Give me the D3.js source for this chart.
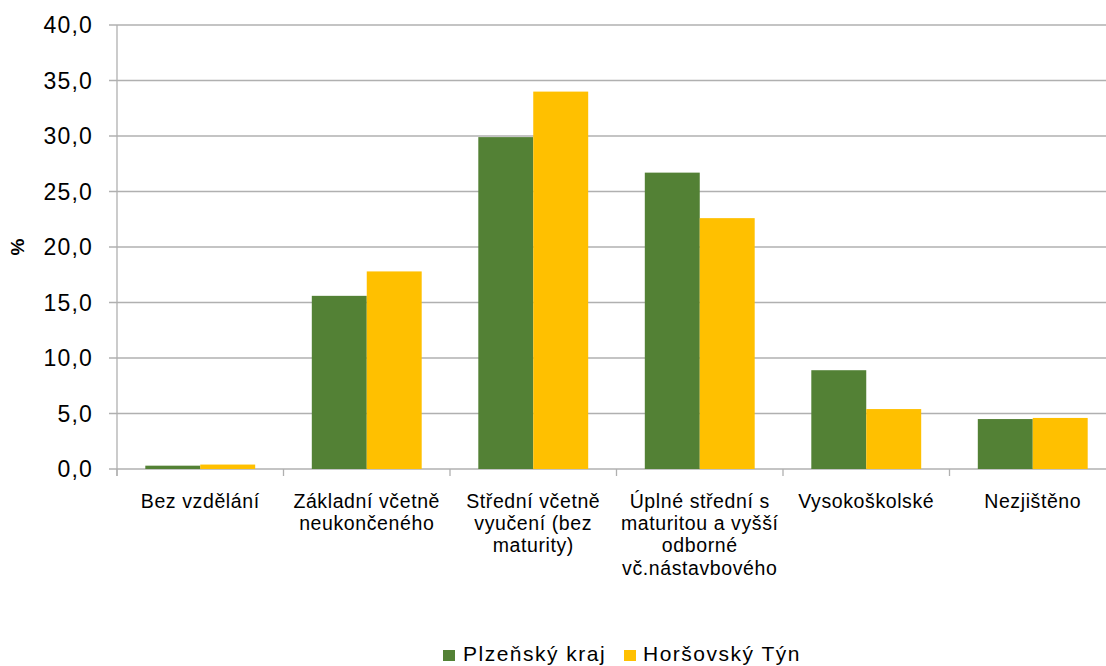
<!DOCTYPE html>
<html>
<head>
<meta charset="utf-8">
<script src="https://cdn.jsdelivr.net/npm/d3@7"></script>
<style>
  body { margin: 0; background: #fff; }
  svg { display: block; font-family: "Liberation Sans", Arial, sans-serif; }
</style>
</head>
<body>
<svg width="1106" height="666"></svg>
<script>
// categories, each label already split into the lines shown under the axis
let categories = ["Bez vzdělání", "Základní včetně neukončeného", "Střední včetně vyučení (bez maturity)",
  "Úplné střední s maturitou a vyšší odborné vč.nástavbového", "Vysokoškolské", "Nezjištěno"];
let categoryLines = [
  ["Bez vzdělání"],
  ["Základní včetně", "neukončeného"],
  ["Střední včetně", "vyučení (bez", "maturity)"],
  ["Úplné střední s", "maturitou a vyšší", "odborné", "vč.nástavbového"],
  ["Vysokoškolské"],
  ["Nezjištěno"]
];
let seriesNames = ["Plzeňský kraj", "Horšovský Týn"];
let plzensky = [0.3, 15.6, 29.9, 26.7, 8.9, 4.5];
let horsovsky = [0.4, 17.8, 34.0, 22.6, 5.4, 4.6];
let yTicks = [0, 5, 10, 15, 20, 25, 30, 35, 40];

let colors = ["#538135", "#FFC000"];

let data = categories.map((c, i) => ({
  cat: c,
  values: [plzensky[i], horsovsky[i]]
}));

let svg = d3.select("svg");
let plotLeft = 117, plotRight = 1116, plotTop = 25, plotBottom = 469;

let x = d3.scaleBand()
    .domain(categories)
    .range([plotLeft, plotRight])
    .paddingInner(0.34)
    .paddingOuter(0.17);

let step = (plotRight - plotLeft) / categories.length;

let xs = d3.scaleBand()
    .domain(d3.range(seriesNames.length))
    .range([0, x.bandwidth()]);

let y = d3.scaleLinear()
    .domain([0, 40])
    .range([plotBottom, plotTop]);

let fmt = (d) => d3.format(".1f")(d).replace(".", ",");

// gridlines
svg.append("g")
  .selectAll("line")
  .data(yTicks)
  .enter().append("line")
    .attr("x1", plotLeft - 8)
    .attr("x2", plotRight)
    .attr("y1", (d) => y(d))
    .attr("y2", (d) => y(d))
    .attr("stroke", "#b0b0b0")
    .attr("stroke-width", 1.3);

// y axis line
svg.append("line")
    .attr("x1", plotLeft).attr("x2", plotLeft)
    .attr("y1", plotTop).attr("y2", plotBottom + 7)
    .attr("stroke", "#b0b0b0")
    .attr("stroke-width", 1.3);

// x category ticks
svg.append("g")
  .selectAll("line")
  .data(d3.range(categories.length + 1))
  .enter().append("line")
    .attr("x1", (i) => plotLeft + i * step)
    .attr("x2", (i) => plotLeft + i * step)
    .attr("y1", plotBottom)
    .attr("y2", plotBottom + 7)
    .attr("stroke", "#b0b0b0")
    .attr("stroke-width", 1.3);

// y tick labels
svg.append("g")
  .selectAll("text")
  .data(yTicks)
  .enter().append("text")
    .attr("x", 93)
    .attr("y", (d) => y(d) + 8)
    .attr("text-anchor", "end")
    .attr("font-size", 23)
    .attr("letter-spacing", 1.2)
    .attr("fill", "#000")
    .text(fmt);

// bars
let group = svg.append("g")
  .selectAll("g")
  .data(data)
  .enter().append("g")
    .attr("transform", (d) => `translate(${x(d.cat)},0)`);

group.selectAll("rect")
  .data((d) => d.values)
  .enter().append("rect")
    .attr("x", (d, i) => xs(i))
    .attr("width", xs.bandwidth())
    .attr("y", (d) => y(d))
    .attr("height", (d) => y(0) - y(d))
    .attr("fill", (d, i) => colors[i]);

// category labels
let labels = svg.append("g")
  .selectAll("text")
  .data(data)
  .enter().append("text")
    .attr("text-anchor", "middle")
    .attr("font-size", 19.5)
    .attr("letter-spacing", 0.6)
    .attr("fill", "#000");

labels.selectAll("tspan")
  .data((d, i) => categoryLines[i].map((t) => ({ t: t, cat: d.cat })))
  .enter().append("tspan")
    .attr("x", (d) => x(d.cat) + x.bandwidth() / 2)
    .attr("y", (d, j) => 507.5 + j * 22.4)
    .text((d) => d.t);

// y axis title
svg.append("text")
    .attr("transform", "translate(24,247) rotate(-90)")
    .attr("text-anchor", "middle")
    .attr("font-size", 19)
    .attr("font-weight", "bold")
    .text("%");

// legend
let legendX = [443, 624];
let legend = svg.append("g")
  .selectAll("g")
  .data(seriesNames)
  .enter().append("g")
    .attr("transform", (d, i) => `translate(${legendX[i]},650)`);

legend.append("rect")
    .attr("width", 12)
    .attr("height", 11)
    .attr("fill", (d, i) => colors[i]);

legend.append("text")
    .attr("x", (d, i) => i === 0 ? 20 : 19)
    .attr("y", 11)
    .attr("font-size", 21)
    .attr("letter-spacing", 1.5)
    .text((d) => d);
</script>
</body>
</html>
